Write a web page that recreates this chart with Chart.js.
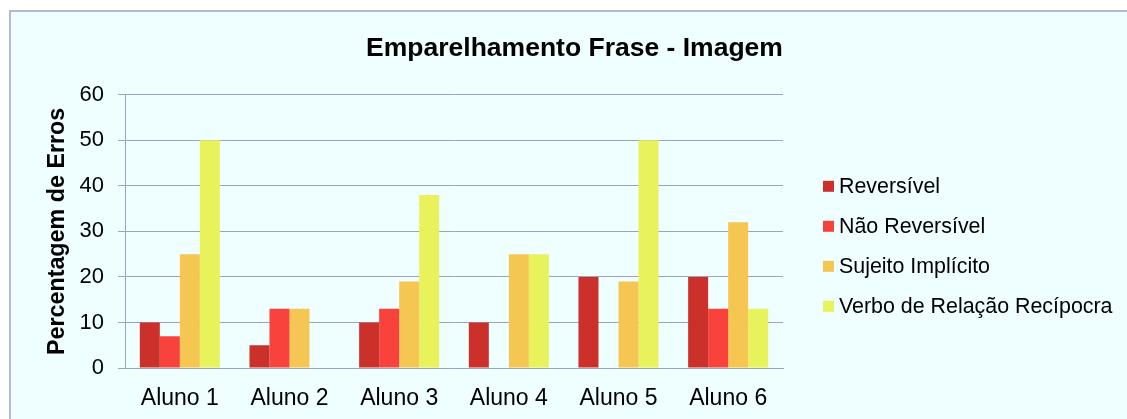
<!DOCTYPE html>
<html>
<head>
<meta charset="utf-8">
<title>Emparelhamento Frase - Imagem</title>
<script src="https://cdn.jsdelivr.net/npm/chart.js@4/dist/chart.umd.min.js"></script>
<style>
  html, body { margin: 0; padding: 0; background: #ffffff; }
  #wrap { width: 1127px; height: 419px; }
</style>
</head>
<body>
<div id="wrap"><canvas id="chart" width="1127" height="419"></canvas></div>
<script>
// Categories and series (percentage of errors per student)
const alunos = ['Aluno 1', 'Aluno 2', 'Aluno 3', 'Aluno 4', 'Aluno 5', 'Aluno 6'];
const reversivel = [10, 5, 10, 10, 20, 20];
const naoReversivel = [7, 13, 13, 0, 0, 13];
const sujeitoImplicito = [25, 13, 19, 25, 19, 32];
const verboRelacao = [50, 0, 38, 25, 50, 13];
const serieNomes = ['Reversível', 'Não Reversível', 'Sujeito Implícito', 'Verbo de Relação Recípocra'];
const yTicks = [0, 10, 20, 30, 40, 50, 60];

const FONT = "'Liberation Sans', Arial, Helvetica, sans-serif";
const GRID = '#98a5bc';

// Panel background with a light border along the top and left edges
const panel = {
  id: 'panel',
  beforeDraw(chart) {
    const ctx = chart.ctx;
    ctx.save();
    ctx.fillStyle = '#ffffff';
    ctx.fillRect(0, 0, chart.width, chart.height);
    ctx.fillStyle = '#efffff';
    ctx.fillRect(9, 10, chart.width - 9, chart.height - 10);
    ctx.strokeStyle = '#aebbd0';
    ctx.lineWidth = 2;
    ctx.beginPath();
    ctx.moveTo(10, chart.height);
    ctx.lineTo(10, 11);
    ctx.lineTo(chart.width, 11);
    ctx.stroke();
    ctx.restore();
  }
};

// Legend list to the right of the plot: small square swatch + series name
const sideLegend = {
  id: 'sideLegend',
  afterDraw(chart) {
    const ctx = chart.ctx;
    const area = chart.chartArea;
    const x0 = area.right + 40;
    const y0 = area.top + 91.5;
    const rowGap = 40;
    ctx.save();
    ctx.font = '21.4px ' + FONT;
    ctx.textBaseline = 'middle';
    ctx.textAlign = 'left';
    chart.data.datasets.forEach((ds, i) => {
      const cy = y0 + i * rowGap;
      ctx.fillStyle = ds.backgroundColor;
      ctx.fillRect(x0, cy - 5.5, 11, 11);
      ctx.fillStyle = '#000000';
      ctx.fillText(ds.label, x0 + 16, cy + 1);
    });
    ctx.restore();
  }
};

const colores = ['#cc302a', '#f9423c', '#f6c653', '#e8f25b'];
const series = [reversivel, naoReversivel, sujeitoImplicito, verboRelacao];

new Chart(document.getElementById('chart'), {
  type: 'bar',
  data: {
    labels: alunos,
    datasets: series.map((d, i) => ({
      label: serieNomes[i],
      data: d,
      backgroundColor: colores[i],
      borderWidth: 0,
      barPercentage: 1.0,
      categoryPercentage: 0.73
    }))
  },
  options: {
    responsive: false,
    animation: false,
    devicePixelRatio: 1,
    layout: { padding: { left: 37, right: 15, top: 0, bottom: 0 } },
    plugins: {
      title: {
        display: true,
        text: 'Emparelhamento Frase - Imagem',
        color: '#000000',
        font: { family: FONT, size: 26.5, weight: 'bold' },
        padding: { top: 33, bottom: 30 }
      },
      legend: { display: false },
      tooltip: { enabled: false }
    },
    scales: {
      x: {
        grid: { display: false, drawTicks: false },
        border: { display: true, color: GRID, width: 1 },
        ticks: { color: '#000000', font: { family: FONT, size: 23 }, padding: 17 },
        afterFit(s) { s.height = 51; }
      },
      y: {
        min: 0,
        max: 60,
        afterBuildTicks(s) { s.ticks = yTicks.map(v => ({ value: v })); },
        grid: { color: GRID, lineWidth: 1, tickLength: 7, drawTicks: true },
        border: { display: true, color: GRID, width: 1 },
        ticks: { color: '#000000', font: { family: FONT, size: 22 }, padding: 14 },
        title: {
          display: true,
          text: 'Percentagem de Erros',
          color: '#000000',
          font: { family: FONT, size: 23.3, weight: 'bold' },
          padding: { top: 7, bottom: 0 }
        },
        afterFit(s) { s.width = 88; }
      },
      legendSpace: {
        type: 'linear',
        position: 'right',
        display: true,
        grid: { display: false, drawTicks: false },
        border: { display: false },
        ticks: { display: false },
        afterFit(s) { s.width = 329; }
      }
    }
  },
  plugins: [panel, sideLegend]
});
</script>
</body>
</html>
